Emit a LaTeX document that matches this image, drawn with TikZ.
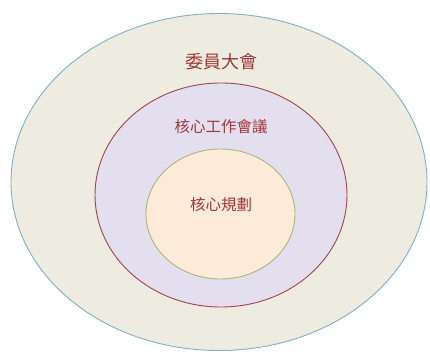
\documentclass[tikz,border=0pt]{standalone}
\usepackage{fontspec}
\newfontfamily\cjk{Noto Sans CJK TC}
\usetikzlibrary{shapes.geometric}
\definecolor{outerfill}{HTML}{EEEBE0}
\definecolor{outerline}{HTML}{7FB0C4}
\definecolor{midfill}{HTML}{E4DFEE}
\definecolor{midline}{HTML}{A04452}
\definecolor{innerfill}{HTML}{FDEBD9}
\definecolor{innerline}{HTML}{A8B67A}
\definecolor{txt}{HTML}{A03838}
\tikzset{
  ring/.style={ellipse, inner sep=0pt, line width=0.9pt},
  lbl/.style={text=txt, inner sep=0pt}
}
\begin{document}
\begin{tikzpicture}[x=1pt,y=-1pt]
\useasboundingbox[fill=white] (0,0) rectangle (430,352);
\node[ring, draw=outerline, fill=outerfill, minimum width=416pt, minimum height=337pt] (outer) at (219,182) {};
\node[ring, draw=midline, fill=midfill, minimum width=252pt, minimum height=224pt] (mid) at (221,195) {};
\node[ring, draw=innerline, fill=innerfill, minimum width=149pt, minimum height=130pt] (inner) at (220.5,214) {};
\node[lbl, font=\cjk\fontsize{18}{18}\selectfont] (t1) at (221,62) {委員大會};
\node[lbl, font=\cjk\fontsize{15.5}{15.5}\selectfont] (t2) at (221,127) {核心工作會議};
\node[lbl, font=\cjk\fontsize{15.5}{15.5}\selectfont] (t3) at (221,205) {核心規劃};
\end{tikzpicture}
\end{document}
